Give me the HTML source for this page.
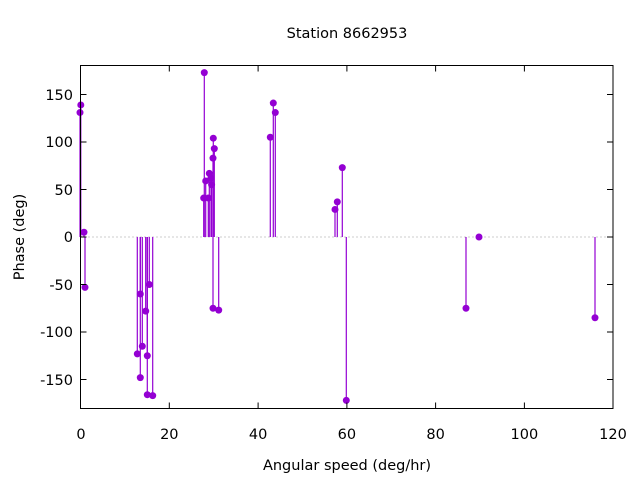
<!DOCTYPE html>
<html><head><meta charset="utf-8"><style>
html,body{margin:0;padding:0;background:#fff}
svg{display:block}
text{font-family:"DejaVu Sans","Liberation Sans",sans-serif;font-size:14.5px;fill:#000}
</style></head><body>
<svg id="s" width="640" height="480" viewBox="0 0 640 480" xmlns="http://www.w3.org/2000/svg">
<rect width="640" height="480" fill="#fff"/>
<line x1="80.5" y1="237" x2="613" y2="237" stroke="#999" stroke-width="1" stroke-dasharray="1,3"/>
<g id="d"></g>
<rect x="80.5" y="65.5" width="532.5" height="343" fill="none" stroke="#000" stroke-width="1"/>
<g stroke="#000" stroke-width="1">
<line x1="80.5" y1="94.5" x2="86.5" y2="94.5"/><line x1="80.5" y1="142" x2="86.5" y2="142"/><line x1="80.5" y1="189.5" x2="86.5" y2="189.5"/><line x1="80.5" y1="237" x2="86.5" y2="237"/><line x1="80.5" y1="284.5" x2="86.5" y2="284.5"/><line x1="80.5" y1="332" x2="86.5" y2="332"/><line x1="80.5" y1="379.5" x2="86.5" y2="379.5"/>
<line x1="613" y1="94.5" x2="607" y2="94.5"/><line x1="613" y1="142" x2="607" y2="142"/><line x1="613" y1="189.5" x2="607" y2="189.5"/><line x1="613" y1="237" x2="607" y2="237"/><line x1="613" y1="284.5" x2="607" y2="284.5"/><line x1="613" y1="332" x2="607" y2="332"/><line x1="613" y1="379.5" x2="607" y2="379.5"/>
<line x1="169.3" y1="408.5" x2="169.3" y2="402.5"/><line x1="258.1" y1="408.5" x2="258.1" y2="402.5"/><line x1="346.9" y1="408.5" x2="346.9" y2="402.5"/><line x1="435.6" y1="408.5" x2="435.6" y2="402.5"/><line x1="524.4" y1="408.5" x2="524.4" y2="402.5"/>
<line x1="169.3" y1="65.5" x2="169.3" y2="71.5"/><line x1="258.1" y1="65.5" x2="258.1" y2="71.5"/><line x1="346.9" y1="65.5" x2="346.9" y2="71.5"/><line x1="435.6" y1="65.5" x2="435.6" y2="71.5"/><line x1="524.4" y1="65.5" x2="524.4" y2="71.5"/>
</g>
<g text-anchor="end">
<text x="73" y="100">150</text><text x="73" y="147">100</text><text x="73" y="195">50</text><text x="73" y="242">0</text><text x="73" y="290">-50</text><text x="73" y="337">-100</text><text x="73" y="385">-150</text>
</g>
<g text-anchor="middle">
<text x="81" y="439">0</text><text x="169.3" y="439">20</text><text x="258.1" y="439">40</text><text x="346.9" y="439">60</text><text x="435.6" y="439">80</text><text x="524.4" y="439">100</text><text x="613" y="439">120</text>
<text x="347" y="470">Angular speed (deg/hr)</text>
<text x="347" y="38">Station 8662953</text>
<text transform="translate(24,237) rotate(-90)">Phase (deg)</text>
</g>
</svg>
<script>
var pts=[[80,131],[80.8,139],[84,5],[85,-53],[137.3,-123],[140.3,-148],[140.3,-60],[142.3,-115],[145.7,-78],[147.3,-125],[147.3,-166],[149.3,-50],[152.7,-167],[204.3,173],[203.7,41],[205.7,59],[208.3,41],[209.3,67],[211,62],[211.6,55],[213.3,104],[214.3,93],[213,83],[213,-75],[218.7,-77],[270.3,105],[273.3,141],[275.3,131],[335,29],[337.3,37],[342.3,73],[346.3,-172],[466,-75],[479,0],[595,-85]];
var g=document.getElementById('d'),h='';
pts.forEach(function(p){var y=237-p[1]*0.95;h+='<line x1="'+p[0]+'" y1="237" x2="'+p[0]+'" y2="'+y+'" stroke="#9400d3" stroke-width="1.2"/>';});
pts.forEach(function(p){var y=237-p[1]*0.95;h+='<circle cx="'+p[0]+'" cy="'+y+'" r="3.5" fill="#9400d3"/>';});
g.innerHTML=h;
</script>
</body></html>
